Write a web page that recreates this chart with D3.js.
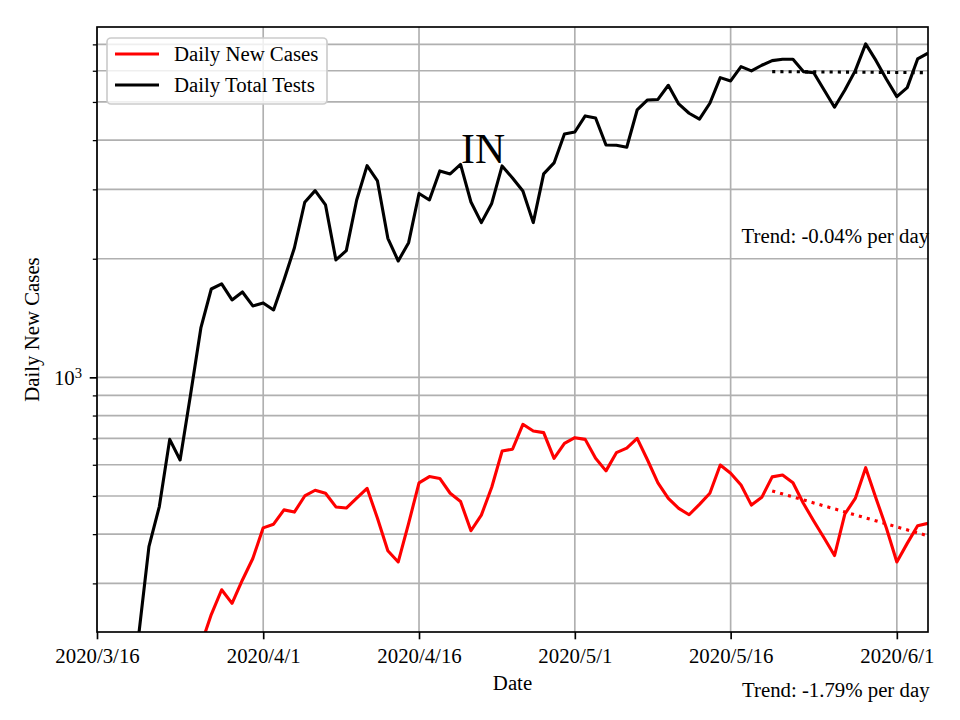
<!DOCTYPE html>
<html>
<head>
<meta charset="utf-8">
<script src="https://cdn.jsdelivr.net/npm/d3@7"></script>
<style>
  html, body { margin: 0; padding: 0; background: #fff; }
  svg { display: block; }
  text { font-family: "Liberation Serif", "Times New Roman", serif; fill: #000; }
</style>
</head>
<body>
<div id="chart"></div>
<script>
// ---------------- data ----------------
const startDate = "2020-03-16";
const endDate = "2020-06-04";
const majorTickDates = ["2020-03-16", "2020-04-01", "2020-04-16", "2020-05-01", "2020-05-16", "2020-06-01"];
const yMajorTicks = [1000];
const yMinorTicks = [300, 400, 500, 600, 700, 800, 900, 2000, 3000, 4000, 5000, 6000, 7000];

// Daily Total Tests, one value per day starting 2020-03-20
const testsStart = "2020-03-20";
const testsValues = [220, 372, 470, 696, 617, 902, 1335, 1676, 1726, 1572, 1647, 1518, 1545, 1483, 1767,
  2130, 2782, 2978, 2739, 1986, 2097, 2820, 3446, 3151, 2254, 1974, 2197, 2929, 2820, 3341, 3283, 3470,
  2787, 2470, 2763, 3440, 3207, 2972, 2470, 3283, 3501, 4147, 4195, 4608, 4554, 3889, 3883, 3837, 4771,
  5059, 5074, 5512, 4942, 4681, 4522, 4962, 5763, 5653, 6146, 5994, 6196, 6365, 6418, 6418, 5970, 5933,
  5362, 4848, 5362, 6004, 7018, 6365, 5709, 5157, 5436, 6430, 6647];

// Daily New Cases, one value per day starting 2020-03-26
const casesStart = "2020-03-26";
const casesValues = [209, 250, 289, 267, 306, 347, 415, 424, 461, 455, 500, 517, 508, 469, 466, 494, 523,
  439, 363, 340, 426, 540, 560, 554, 508, 484, 408, 447, 526, 650, 657, 760, 731, 724, 623, 680, 703, 696,
  623, 579, 644, 661, 700, 617, 540, 493, 465, 448, 476, 508, 599, 571, 533, 474, 496, 559, 565, 540, 479,
  432, 391, 353, 450, 493, 590, 493, 414, 340, 379, 420, 426];

// trend lines (start / end of fitted window)
const trendDates = ["2020-05-20", "2020-06-04"];
const testsTrend = [5970, 5933];
const casesTrend = [515, 396];
const testsTrendLabel = "Trend: -0.04% per day";
const casesTrendLabel = "Trend: -1.79% per day";

const seriesNames = ["Daily New Cases", "Daily Total Tests"];
const seriesColors = ["#ff0000", "#000000"];
const stateLabel = "IN";
const xLabel = "Date";
const yLabel = "Daily New Cases";

// ---------------- layout ----------------
const W = 960, H = 720;
const mLeft = 97, mRight = 928, mTop = 27, mBottom = 632;
const parse = d3.utcParse("%Y-%m-%d");

const svg = d3.select("#chart").append("svg").attr("width", W).attr("height", H);
svg.append("rect").attr("width", W).attr("height", H).attr("fill", "#fff");

const x = d3.scaleUtc().domain([parse(startDate), parse(endDate)]).range([mLeft, mRight]);
const y = d3.scaleLog().domain([225.8, 7748]).range([mBottom, mTop]);

function seq(start, vals) {
  const s = parse(start);
  return vals.map((v, i) => ({ date: d3.utcDay.offset(s, i), value: v }));
}
const tests = seq(testsStart, testsValues);
const cases = seq(casesStart, casesValues);

svg.append("defs").append("clipPath").attr("id", "clip")
  .append("rect").attr("x", mLeft).attr("y", mTop).attr("width", mRight - mLeft).attr("height", mBottom - mTop);

// grid
const grid = svg.append("g");
const allY = yMajorTicks.concat(yMinorTicks);
grid.selectAll("line.gy").data(allY).join("line")
  .attr("x1", mLeft).attr("x2", mRight)
  .attr("y1", d => y(d)).attr("y2", d => y(d))
  .attr("stroke", "#b0b0b0").attr("stroke-width", 1.67);
grid.selectAll("line.gx").data(majorTickDates).join("line")
  .attr("y1", mTop).attr("y2", mBottom)
  .attr("x1", d => x(parse(d))).attr("x2", d => x(parse(d)))
  .attr("stroke", "#b0b0b0").attr("stroke-width", 1.67);

// lines
const line = d3.line().x(d => x(d.date)).y(d => y(d.value));
const plot = svg.append("g").attr("clip-path", "url(#clip)");
plot.append("path").datum(cases).attr("d", line)
  .attr("fill", "none").attr("stroke", seriesColors[0]).attr("stroke-width", 3.1).attr("stroke-linejoin", "round");
plot.append("path").datum(tests).attr("d", line)
  .attr("fill", "none").attr("stroke", seriesColors[1]).attr("stroke-width", 3.1).attr("stroke-linejoin", "round");

const tl = (vals) => trendDates.map((d, i) => ({ date: parse(d), value: vals[i] }));
plot.append("path").datum(tl(casesTrend)).attr("d", line)
  .attr("fill", "none").attr("stroke", seriesColors[0]).attr("stroke-width", 3.1).attr("stroke-dasharray", "3.1,5.1");
plot.append("path").datum(tl(testsTrend)).attr("d", line)
  .attr("fill", "none").attr("stroke", seriesColors[1]).attr("stroke-width", 3.1).attr("stroke-dasharray", "3.1,5.1");

// texts
svg.append("text").attr("x", 483).attr("y", 163).attr("text-anchor", "middle")
  .style("font-size", "41.7px").text(stateLabel);
svg.append("text").attr("x", 741.5).attr("y", 243).style("font-size", "20.8px").text(testsTrendLabel);
svg.append("text").attr("x", 742).attr("y", 697).style("font-size", "20.8px").text(casesTrendLabel);

// axes
const fmt = d3.utcFormat("%Y/%-m/%-d");
const xAxis = d3.axisBottom(x).tickValues(majorTickDates.map(parse)).tickFormat(fmt)
  .tickSize(7.3).tickPadding(9);
const gx = svg.append("g").attr("transform", `translate(0,${mBottom})`).call(xAxis);
gx.select(".domain").remove();
gx.selectAll(".tick line").attr("stroke", "#000").attr("stroke-width", 1.67);
gx.selectAll(".tick text").style("font-size", "20.8px").style("font-family", "Liberation Serif");

const yMinorAxis = d3.axisLeft(y).tickValues(yMinorTicks).tickFormat("").tickSize(4.2);
const gym = svg.append("g").attr("transform", `translate(${mLeft},0)`).call(yMinorAxis);
gym.select(".domain").remove();
gym.selectAll(".tick line").attr("stroke", "#000").attr("stroke-width", 1.27);

const yMajorAxis = d3.axisLeft(y).tickValues(yMajorTicks).tickFormat("").tickSize(7.3);
const gyM = svg.append("g").attr("transform", `translate(${mLeft},0)`).call(yMajorAxis);
gyM.select(".domain").remove();
gyM.selectAll(".tick line").attr("stroke", "#000").attr("stroke-width", 1.67);
gyM.selectAll(".tick").each(function(d) {
  const t = d3.select(this).append("text").attr("x", -15).attr("y", 0).attr("dy", "0.32em")
    .attr("text-anchor", "end").style("font-size", "20.8px");
  const e = Math.round(Math.log10(d));
  t.append("tspan").text("10");
  t.append("tspan").attr("dy", "-0.45em").style("font-size", "14.6px").text(String(e));
});

// spines
svg.append("rect").attr("x", mLeft).attr("y", mTop).attr("width", mRight - mLeft).attr("height", mBottom - mTop)
  .attr("fill", "none").attr("stroke", "#000").attr("stroke-width", 1.67);

// axis labels
svg.append("text").attr("x", (mLeft + mRight) / 2).attr("y", 690).attr("text-anchor", "middle")
  .style("font-size", "20.8px").text(xLabel);
svg.append("text").attr("transform", `translate(39,${(mTop + mBottom) / 2}) rotate(-90)`)
  .attr("text-anchor", "middle").style("font-size", "20.8px").text(yLabel);

// legend
const lg = svg.append("g");
lg.append("rect").attr("x", 107).attr("y", 38).attr("width", 220).attr("height", 66).attr("rx", 4)
  .attr("fill", "#fff").attr("fill-opacity", 0.8).attr("stroke", "#cccccc").attr("stroke-width", 1.67);
seriesNames.forEach((n, i) => {
  const yy = 54 + i * 31;
  lg.append("line").attr("x1", 115).attr("x2", 159).attr("y1", yy).attr("y2", yy)
    .attr("stroke", seriesColors[i]).attr("stroke-width", 3.1);
  lg.append("text").attr("x", 174).attr("y", yy).attr("dy", "0.32em").style("font-size", "20.8px").text(n);
});
</script>
</body>
</html>
